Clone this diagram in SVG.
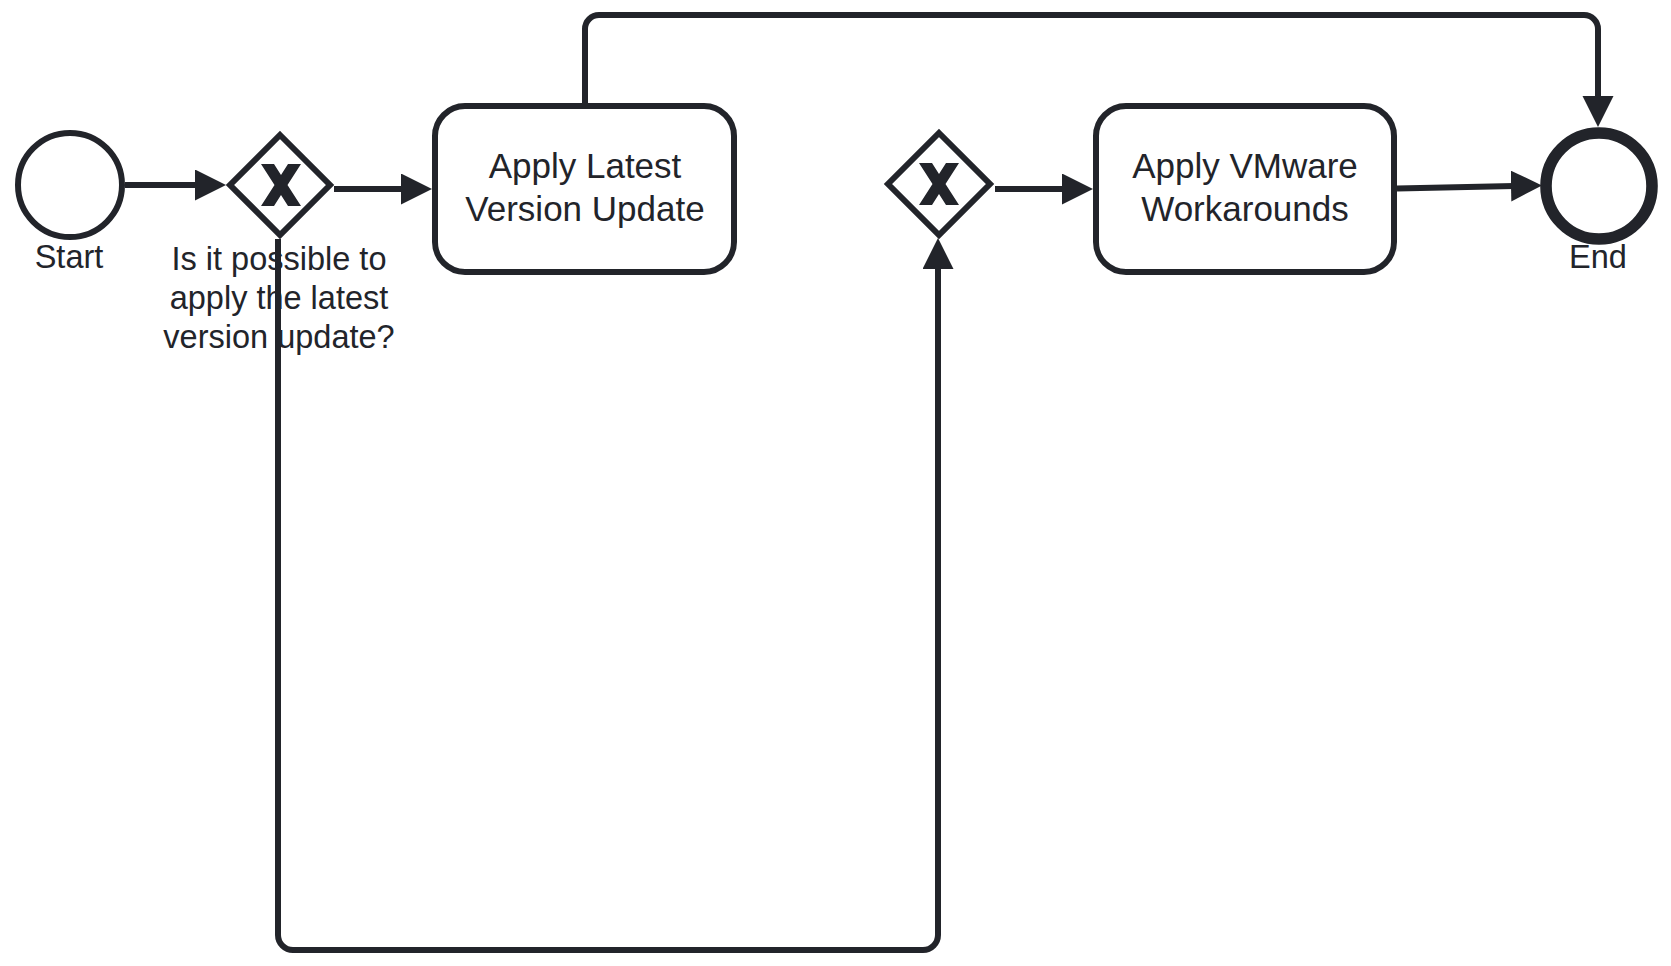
<svg xmlns="http://www.w3.org/2000/svg" width="1671" height="966" viewBox="0 0 1671 966">
  <style>
    .shape { fill: #ffffff; stroke: #22242a; stroke-width: 6; }
    .end { fill: #ffffff; stroke: #22242a; stroke-width: 11.6; }
    .gw { fill: #ffffff; stroke: #22242a; stroke-width: 6; stroke-linejoin: miter; }
    .mark { fill: #22242a; stroke: none; }
    .flow { fill: none; stroke: #22242a; stroke-width: 6; stroke-linejoin: round; marker-end: url(#arrow); }
    .lbl { font-family: "Liberation Sans", Arial, sans-serif; fill: #22242a; text-anchor: middle; }
    .ext { font-size: 32.5px; }
    .task { font-size: 35px; }
  </style>
  <defs>
    <marker id="arrow" markerUnits="userSpaceOnUse" markerWidth="32" markerHeight="32" refX="21" refY="15.5" orient="auto">
      <path d="M0,0 L31,15.5 L0,31 Z" fill="#22242a"/>
    </marker>
  </defs>
  <rect width="1671" height="966" fill="#ffffff"/>

  <g id="connectors">
    <path class="flow" d="M125,185 H216"/>
    <path class="flow" d="M334,189 H422"/>
    <path class="flow" d="M278,239 V935 A15,15 0 0 0 293,950 H923 A15,15 0 0 0 938,935 V248"/>
    <path class="flow" d="M585,103 V29 A14,14 0 0 1 599,15 H1584 A14,14 0 0 1 1598,29 V117"/>
    <path class="flow" d="M995,189 H1083"/>
    <path class="flow" d="M1397,188.5 L1532,185.6"/>
  </g>

  <g id="start">
    <circle class="shape" cx="70" cy="185" r="52"/>
    <text class="lbl ext" x="69" y="268">Start</text>
  </g>

  <g id="gateway1">
    <polygon class="gw" points="280,135 330,185 280,235 230,185"/>
    <polygon class="mark" transform="translate(281,185)" points="-20,-21 -6.5,0 -20,21 -7,21 0,10.1 7,21 20,21 6.5,0 20,-21 7,-21 0,-10.1 -7,-21"/>
    <text class="lbl ext" x="279" y="270">Is it possible to</text>
    <text class="lbl ext" x="279" y="309">apply the latest</text>
    <text class="lbl ext" x="279" y="348">version update?</text>
  </g>

  <g id="task1">
    <rect class="shape" x="435" y="106" width="299" height="166" rx="30" ry="30"/>
    <text class="lbl task" x="585" y="178">Apply Latest</text>
    <text class="lbl task" x="585" y="221">Version Update</text>
  </g>

  <g id="gateway2">
    <polygon class="gw" points="939,133 990,184 939,235 888,184"/>
    <polygon class="mark" transform="translate(939,184)" points="-20,-21 -6.5,0 -20,21 -7,21 0,10.1 7,21 20,21 6.5,0 20,-21 7,-21 0,-10.1 -7,-21"/>
  </g>

  <g id="task2">
    <rect class="shape" x="1096" y="106" width="298" height="166" rx="30" ry="30"/>
    <text class="lbl task" x="1245" y="178">Apply VMware</text>
    <text class="lbl task" x="1245" y="221">Workarounds</text>
  </g>

  <g id="end">
    <circle class="end" cx="1599" cy="186" r="53"/>
    <text class="lbl ext" x="1598" y="268">End</text>
  </g>
</svg>
